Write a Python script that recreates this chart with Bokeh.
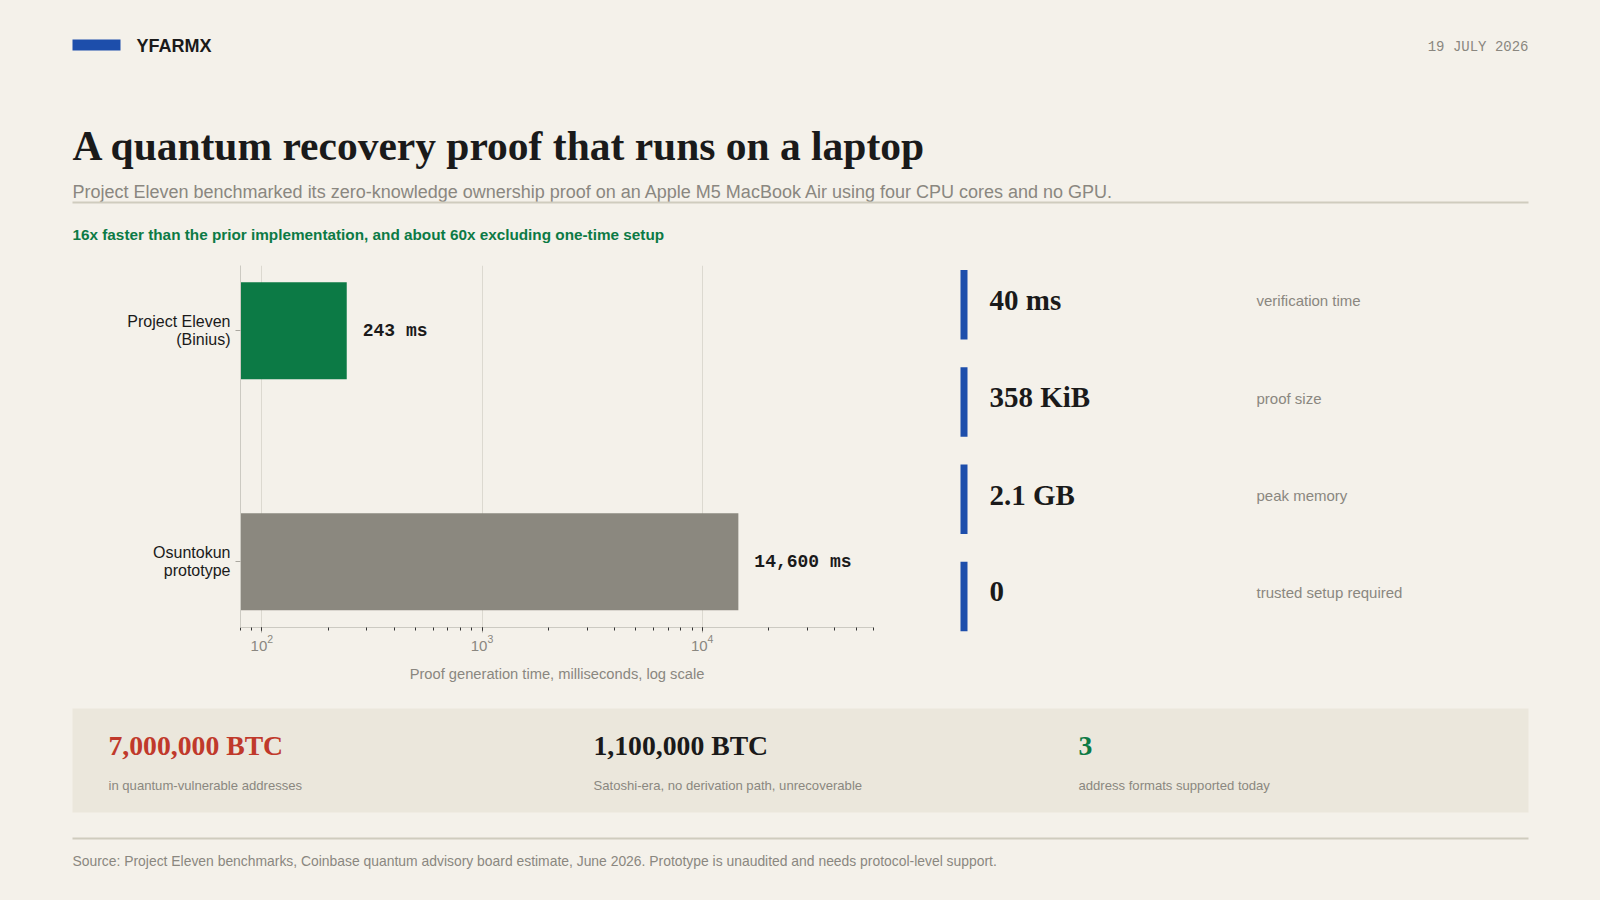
from bokeh.plotting import figure
from bokeh.layouts import column, row
from bokeh.models import Range1d, FixedTicker
from bokeh.core.properties import value
from bokeh.embed import file_html
from bokeh.resources import INLINE

# ---------------- data ----------------
brand = "YFARMX"
date_text = "19 JULY 2026"
title_text = "A quantum recovery proof that runs on a laptop"
subtitle_text = ("Project Eleven benchmarked its zero-knowledge ownership proof on an Apple M5 "
                 "MacBook Air using four CPU cores and no GPU.")
kicker_text = "16x faster than the prior implementation, and about 60x excluding one-time setup"

implementations = ["Project Eleven\n(Binius)", "Osuntokun\nprototype"]
impl_pos = [1, 0]
proof_ms = [243, 14600]
proof_labels = ["243 ms", "14,600 ms"]
axis_title = "Proof generation time, milliseconds, log scale"

stat_values = ["40 ms", "358 KiB", "2.1 GB", "0"]
stat_labels = ["verification time", "proof size", "peak memory", "trusted setup required"]

btc_values = ["7,000,000 BTC", "1,100,000 BTC", "3"]
btc_labels = ["in quantum-vulnerable addresses",
              "Satoshi-era, no derivation path, unrecoverable",
              "address formats supported today"]
source_text = ("Source: Project Eleven benchmarks, Coinbase quantum advisory board estimate, June 2026. "
               "Prototype is unaudited and needs protocol-level support.")

# ---------------- styles ----------------
BG = "#f4f1ea"
BAND = "#ebe7dc"
INK = "#1a1a1a"
GREY = "#8a8780"
RULE = "#cfccbe"
GREEN = "#0c7a45"
BAR_GREY = "#8b887f"
BLUE = "#1d4eab"
RED = "#c0392b"
SANS = value("Liberation Sans")
SERIF = value("Liberation Serif")
MONO = value("Liberation Mono")


def canvas(x0, x1, y0, y1, **kw):
    p = figure(width=int(x1 - x0), height=int(y1 - y0),
               x_range=Range1d(x0, x1), y_range=Range1d(y1, y0),
               x_axis_type=None, y_axis_type=None, toolbar_location=None,
               output_backend="svg", min_border=0,
               background_fill_color=None, border_fill_color=BG, outline_line_color=None, **kw)
    return p


def txt(p, x, y, t, font, size, color, bold=False, align="left"):
    p.text(x=x, y=y, text=t, text_font=font, text_font_size=size,
           text_font_style="bold" if bold else "normal", text_color=color,
           text_baseline="middle", text_align=align)


# ---------------- header ----------------
head = canvas(0, 1600, 0, 255)
head.quad(left=[72], right=[120], top=[39], bottom=[50], color=BLUE, line_color=None)
txt(head, [136], [45], [brand], SANS, "18px", INK, bold=True)
txt(head, [1528], [46], [date_text], MONO, "14px", GREY, align="right")
txt(head, [72], [145], [title_text], SERIF, "41.5px", INK, bold=True)
txt(head, [72], [191], [subtitle_text], SANS, "18px", GREY)
head.segment(x0=[72], x1=[1528], y0=[202], y1=[202], line_color=RULE, line_width=2)
txt(head, [72], [234], [kicker_text], SANS, "15.3px", GREEN, bold=True)

# ---------------- bar chart ----------------
x_lo, x_hi = 80, 60000
frame_top, frame_bottom = 265, 627
pc = figure(width=930, height=445, x_axis_type="log",
            x_range=Range1d(x_lo, x_hi), y_range=Range1d(-0.285, 1.282),
            toolbar_location=None, output_backend="svg",
            background_fill_color=None, border_fill_color=BG, outline_line_color=None,
            min_border_left=240, min_border_right=57,
            min_border_top=frame_top - 255, min_border_bottom=700 - frame_bottom)
pc.hbar(y=impl_pos, left=x_lo, right=proof_ms, height=0.42,
        fill_color=[GREEN, BAR_GREY], line_color=None)
pc.text(x=proof_ms, y=impl_pos, text=proof_labels, x_offset=16,
        text_font=MONO, text_font_size="18px", text_font_style="bold",
        text_color=INK, text_baseline="middle", text_align="left")

pc.ygrid.visible = False
pc.xgrid.grid_line_color = "#dcd9d0"
pc.xgrid.grid_line_width = 1

xa = pc.xaxis[0]
xa.axis_line_color = "#cccac2"
xa.major_tick_in = 0
xa.major_tick_out = 5
xa.minor_tick_in = 0
xa.minor_tick_out = 3
xa.major_tick_line_color = "#aaa79f"
xa.minor_tick_line_color = "#333333"
xa.major_label_text_font = "Liberation Sans"
xa.major_label_text_font_size = "15px"
xa.major_label_text_color = GREY
xa.major_label_standoff = 2
xa.axis_label = axis_title
xa.axis_label_text_font = "Liberation Sans"
xa.axis_label_text_font_size = "14.7px"
xa.axis_label_text_font_style = "normal"
xa.axis_label_text_color = GREY
xa.axis_label_standoff = 12

ya = pc.yaxis[0]
ya.ticker = FixedTicker(ticks=impl_pos)
ya.major_label_overrides = {pos: name for pos, name in zip(impl_pos, implementations)}
ya.axis_line_color = "#cccac2"
ya.major_tick_in = 0
ya.major_tick_out = 5
ya.minor_tick_line_color = None
ya.major_tick_line_color = "#aaa79f"
ya.major_label_text_font = "Liberation Sans"
ya.major_label_text_font_size = "16px"
ya.major_label_text_line_height = 1.08
ya.major_label_text_color = INK
ya.major_label_standoff = 5

# ---------------- stat cards ----------------
stats = canvas(930, 1600, 255, 700)
card_top0, card_step, card_h = 269.4, 97.3, 69.5
tops = [card_top0 + i * card_step for i in range(len(stat_values))]
stats.quad(left=[960] * len(tops), right=[967] * len(tops), top=tops,
           bottom=[t + card_h for t in tops], color=BLUE, line_color=None)
txt(stats, [989] * len(tops), [t + 30 for t in tops], stat_values, SERIF, "29px", INK, bold=True)
txt(stats, [1256] * len(tops), [t + 31 for t in tops], stat_labels, SANS, "15px", GREY)

# ---------------- bottom band + footer ----------------
foot = canvas(0, 1600, 700, 900)
foot.quad(left=[72], right=[1528], top=[708], bottom=[812], color=BAND, line_color=None)
cols = [108 + 485 * i for i in range(len(btc_values))]
foot.text(x=cols, y=[745] * len(cols), text=btc_values, text_font=SERIF,
          text_font_size="27.7px", text_font_style="bold",
          text_color=[RED, INK, GREEN], text_baseline="middle", text_align="left")
txt(foot, cols, [785] * len(cols), btc_labels, SANS, "13.1px", GREY)
foot.segment(x0=[72], x1=[1528], y0=[838], y1=[838], line_color=RULE, line_width=2)
txt(foot, [72], [860], [source_text], SANS, "13.9px", GREY)

# stats panel nested in its own column so its frame keeps the full panel height
layout = column(head, row(pc, column(stats, spacing=0), spacing=0), foot, spacing=0)
html = file_html(layout, INLINE)
html = html.replace("</head>", "<style>html, body { background: %s; }</style></head>" % BG, 1)
open("out.html", "w").write(html)
